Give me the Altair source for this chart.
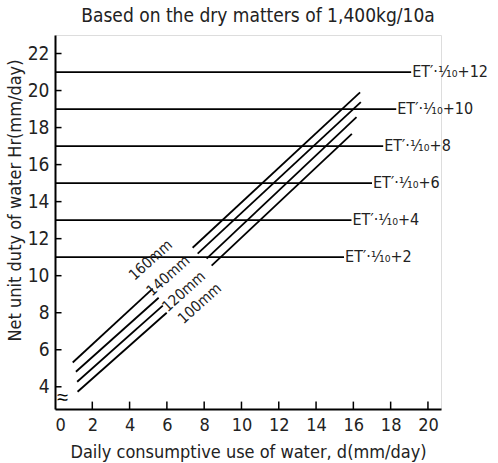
import altair as alt
import pandas as pd

# ---- data ----
x_ticks = [0, 2, 4, 6, 8, 10, 12, 14, 16, 18, 20]
y_ticks = [4, 6, 8, 10, 12, 14, 16, 18, 20, 22]

et_levels = [21, 19, 17, 15, 13, 11]
et_ends = [19.1, 18.3, 17.6, 17.0, 15.9, 15.5]
et_labels = ["ET′·¹⁄₁₀+12", "ET′·¹⁄₁₀+10", "ET′·¹⁄₁₀+8",
             "ET′·¹⁄₁₀+6", "ET′·¹⁄₁₀+4", "ET′·¹⁄₁₀+2"]

depth_labels = ["160mm", "140mm", "120mm", "100mm"]
lower_x0 = [0.95, 1.12, 1.19, 1.21]
lower_y0 = [5.31, 4.81, 4.27, 3.73]
lower_x1 = [5.24, 5.56, 5.78, 5.99]
lower_y1 = [9.30, 8.81, 8.38, 8.00]
upper_x0 = [7.38, 7.65, 8.13, 8.40]
upper_y0 = [11.51, 11.19, 10.92, 10.54]
upper_x1 = [16.36, 16.40, 16.17, 15.92]
upper_y1 = [19.90, 19.37, 18.56, 17.66]
label_x = [5.12, 6.06, 6.90, 7.75]
label_y = [10.85, 10.00, 9.15, 8.50]

X_MIN, X_MAX = 0, 20.7
Y_MIN, Y_MAX = 2.8, 23

FONT = "DejaVu Sans Condensed, Liberation Sans Narrow, Liberation Sans"
TXT = "#222222"

xs = alt.Scale(domain=[X_MIN, X_MAX], nice=False, zero=False)
ys = alt.Scale(domain=[Y_MIN, Y_MAX], nice=False, zero=False)

x_axis = alt.Axis(values=x_ticks, tickSize=0, grid=False, labelFontSize=18,
                  labelColor=TXT, labelPadding=7, labelFont=FONT,
                  domainColor="black", domainWidth=2,
                  title="Daily consumptive use of water, d(mm/day)",
                  titleFont=FONT, titleFontSize=18, titleFontWeight="normal",
                  titleColor=TXT, titleX=193, titleY=43, titleBaseline="middle",
                  titleAnchor="middle")
y_axis = alt.Axis(values=y_ticks, tickSize=0, grid=False, labelFontSize=19,
                  labelColor=TXT, labelPadding=6, labelFont=FONT,
                  domainColor="black", domainWidth=2,
                  title="Net unit duty of water Hr(mm/day)",
                  titleFont=FONT, titleFontSize=18, titleFontWeight="normal",
                  titleColor=TXT, titleX=-40, titleY=165, titleBaseline="middle",
                  titleAngle=270, titleAlign="center")


def X(f="x"):
    return alt.X(f, type="quantitative", scale=xs, axis=x_axis)


def Y(f="y"):
    return alt.Y(f, type="quantitative", scale=ys, axis=y_axis)


# horizontal ET lines
et_df = pd.DataFrame({"x": [0.0] * len(et_levels), "x2": et_ends,
                      "y": et_levels, "label": et_labels})
et_rules = alt.Chart(et_df).mark_rule(color="black", strokeWidth=1.8).encode(
    x=X(), x2="x2", y=Y())
et_text = alt.Chart(et_df).mark_text(align="left", baseline="middle", dx=1,
                                     fontSize=16, font=FONT, color=TXT).encode(
    x=alt.X("x2", type="quantitative", scale=xs, axis=x_axis), y=Y(), text="label")

# diagonal depth lines (two segments each)
seg_rows = []
for i in range(len(depth_labels)):
    seg_rows.append({"x": lower_x0[i], "y": lower_y0[i], "x2": lower_x1[i], "y2": lower_y1[i]})
    seg_rows.append({"x": upper_x0[i], "y": upper_y0[i], "x2": upper_x1[i], "y2": upper_y1[i]})
seg_df = pd.DataFrame(seg_rows)
diag = alt.Chart(seg_df).mark_rule(color="black", strokeWidth=1.8).encode(
    x=X(), y=Y(), x2="x2", y2="y2")

lab_df = pd.DataFrame({"x": label_x, "y": label_y, "label": depth_labels})
diag_text = alt.Chart(lab_df).mark_text(angle=318, fontSize=15, font=FONT,
                                        color=TXT, align="center",
                                        baseline="middle").encode(
    x=X(), y=Y(), text="label")

# inward tick marks
xt_df = pd.DataFrame({"x": x_ticks[1:], "x2": x_ticks[1:],
                      "y": [Y_MIN] * (len(x_ticks) - 1),
                      "y2": [Y_MIN + 0.4] * (len(x_ticks) - 1)})
xt = alt.Chart(xt_df).mark_rule(color="black", strokeWidth=1.5).encode(
    x=X(), y=Y(), y2="y2")
yt_df = pd.DataFrame({"x": [0.0] * len(y_ticks), "x2": [0.35] * len(y_ticks),
                      "y": y_ticks})
yt = alt.Chart(yt_df).mark_rule(color="black", strokeWidth=1.5).encode(
    x=X(), x2="x2", y=Y())

# axis break symbol
brk_df = pd.DataFrame({"x": [0.42], "y": [3.4], "label": ["≈"]})
brk = alt.Chart(brk_df).mark_text(fontSize=20, color="black", align="center",
                                  baseline="middle").encode(
    x=X(), y=Y(), text="label")

chart = alt.layer(et_rules, diag, xt, yt, et_text, diag_text, brk).properties(
    width=386, height=374,
    autosize=alt.AutoSizeParams(type="none"),
    padding={"left": 55, "top": 35, "right": 57, "bottom": 54},
    title=alt.TitleParams(text="Based on the dry matters of 1,400kg/10a",
                          fontSize=19, font=FONT, fontWeight="normal",
                          color=TXT, anchor="middle", dx=10, offset=0,
                          baseline="middle"),
).configure_view(stroke=None).configure(background="white")

chart.save("out.html", embed_options={"renderer": "svg", "actions": False})
